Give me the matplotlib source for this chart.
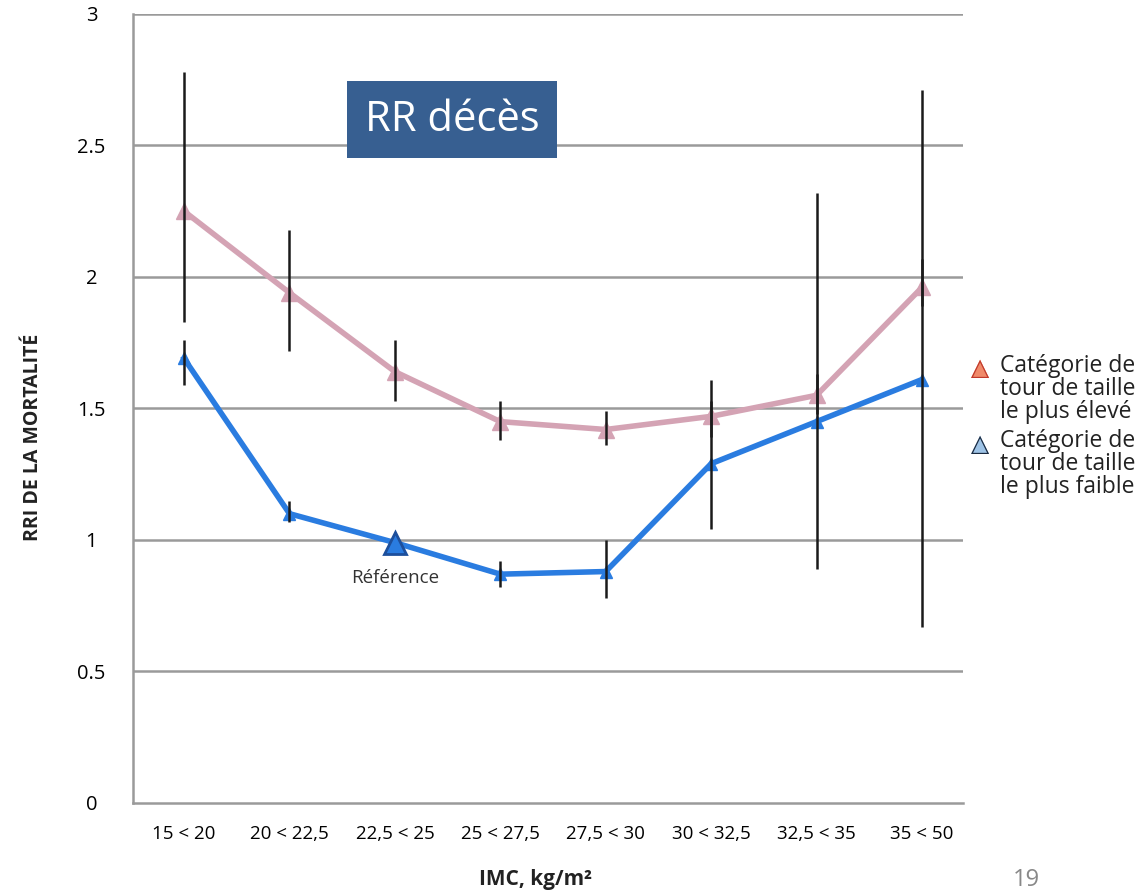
import matplotlib.pyplot as plt
import numpy as np

categories = ["15 < 20", "20 < 22,5", "22,5 < 25", "25 < 27,5", "27,5 < 30", "30 < 32,5", "32,5 < 35", "35 < 50"]

# tour de taille le plus élevé
high_rr = [2.25, 1.94, 1.64, 1.45, 1.42, 1.47, 1.55, 1.96]
high_lo = [1.83, 1.72, 1.53, 1.38, 1.36, 1.39, 1.48, 1.89]
high_hi = [2.78, 2.18, 1.76, 1.53, 1.49, 1.53, 1.63, 2.07]

# tour de taille le plus faible (index 2 = référence)
low_rr = [1.69, 1.10, 0.99, 0.87, 0.88, 1.29, 1.45, 1.61]
low_lo = [1.59, 1.07, None, 0.82, 0.78, 1.04, 0.89, 0.67]
low_hi = [1.76, 1.15, None, 0.92, 1.00, 1.61, 2.32, 2.71]
ref_idx = 2

pink = '#d4a3b4'
blue = '#2a7ce0'
font = ['Open Sans', 'DejaVu Sans']

fig = plt.figure(figsize=(11.44, 8.94), dpi=100)
ax = fig.add_axes([0.1163, 0.1018, 0.7255, 0.8826])
x = np.arange(len(categories))

for yv in [0.5, 1, 1.5, 2, 2.5, 3]:
    ax.axhline(yv, color='#9a9a9a', lw=1.8, zorder=1)

ax.plot(x, high_rr, color=pink, lw=4, marker='^', ms=11, zorder=3)
ax.plot(x, low_rr, color=blue, lw=4, marker='^', ms=9, zorder=3)
ax.plot(x[ref_idx], low_rr[ref_idx], marker='^', ms=16, color=blue,
        markeredgecolor='#1d4f9c', markeredgewidth=2, zorder=4)

for i in range(len(x)):
    ax.vlines(x[i], high_lo[i], high_hi[i], color='#1a1a1a', lw=1.8, zorder=5)
    if low_lo[i] is not None:
        ax.vlines(x[i], low_lo[i], low_hi[i], color='#1a1a1a', lw=1.8, zorder=5)

ax.text(x[ref_idx], 0.855, "Référence", ha='center', va='center', fontsize=13.5,
        color='#333333', family=font)

ax.set_xlim(-0.484, 7.39)
ax.set_ylim(0, 3)
ax.set_xticks(x)
ax.set_xticklabels(categories, fontsize=13.5, family=font)
ax.set_yticks([0, 0.5, 1, 1.5, 2, 2.5, 3])
ax.set_yticklabels(['0', '0.5', '1', '1.5', '2', '2.5', '3'], fontsize=14.5, family=font)
for t in ax.get_yticklabels():
    t.set_horizontalalignment('center')
ax.tick_params(axis='y', length=0, pad=30)
ax.tick_params(axis='x', length=0, pad=16)

for s in ['top', 'right']:
    ax.spines[s].set_visible(False)
ax.spines['left'].set_color('#9a9a9a')
ax.spines['bottom'].set_color('#9a9a9a')
ax.spines['left'].set_linewidth(1.8)
ax.spines['bottom'].set_linewidth(1.8)

fig.text(0.029, 0.511, "RRI DE LA MORTALITÉ", fontsize=14, fontweight='bold', family=font,
         rotation=90, ha='center', va='center', color='#222222')
fig.text(0.468, 0.016, "IMC, kg/m²", fontsize=15, fontweight='bold', family=font,
         ha='center', va='center', color='#222222')

# box title
fig.text(0.395, 0.8663, "RR décès", fontsize=30, color='white', ha='center', va='center',
         family=font, bbox=dict(boxstyle='square,pad=0.42', fc='#375f91', ec='none'))

# legend
fig.text(0.857, 0.588, "▲", color='#f08a6a', fontsize=17, ha='center', va='center')
fig.text(0.857, 0.588, "△", color='#c0392b', fontsize=17, ha='center', va='center')
fig.text(0.874, 0.565, "Catégorie de\ntour de taille\nle plus élevé", fontsize=16.5,
         ha='left', va='center', family=font, color='#222222', linespacing=0.95)
fig.text(0.857, 0.503, "▲", color='#9ec3e6', fontsize=17, ha='center', va='center')
fig.text(0.857, 0.503, "△", color='#1a2a40', fontsize=17, ha='center', va='center')
fig.text(0.874, 0.481, "Catégorie de\ntour de taille\nle plus faible", fontsize=16.5,
         ha='left', va='center', family=font, color='#222222', linespacing=0.95)

fig.text(0.897, 0.002, "19", fontsize=17, color='#888888', ha='center', va='bottom', family=font)

fig.savefig("out.png", dpi=100)
